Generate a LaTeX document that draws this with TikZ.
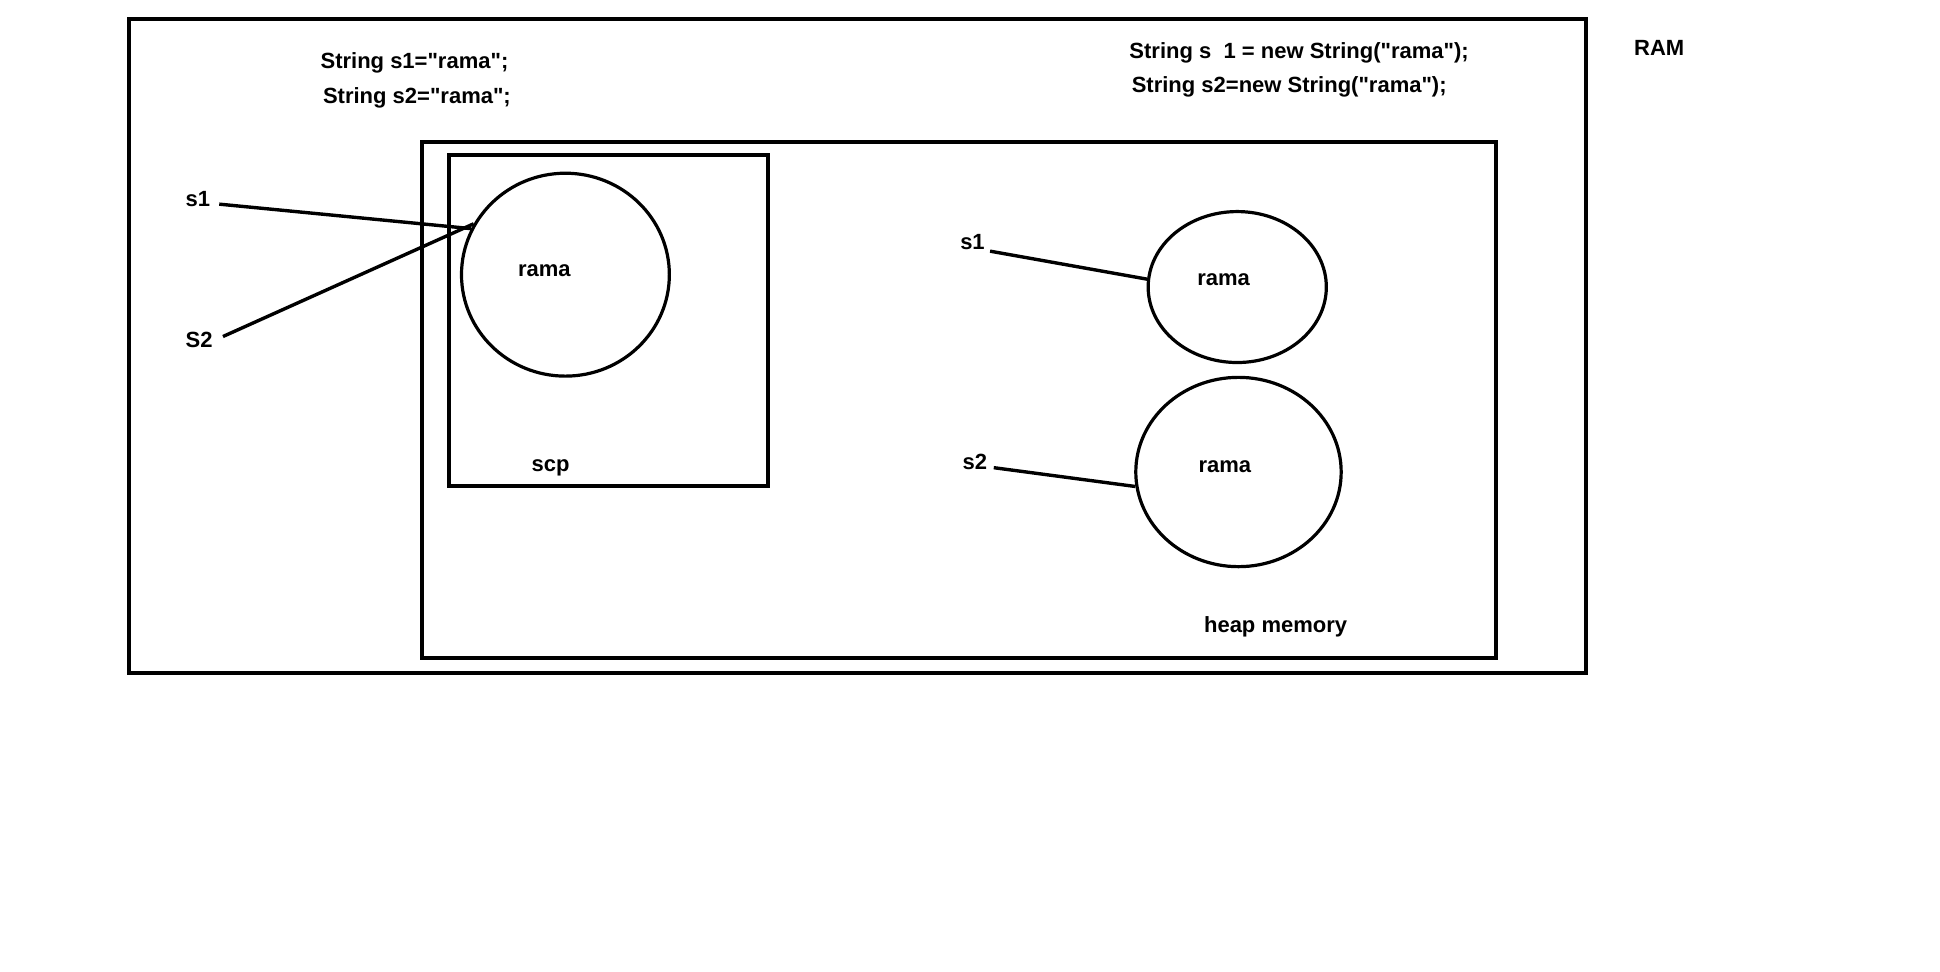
\documentclass[tikz,border=0pt]{standalone}
\usepackage{fontspec}
\setmainfont{Liberation Sans}[Ligatures=TeXOff]
\usetikzlibrary{shapes.geometric,calc}
\begin{document}
\begin{tikzpicture}[x=0.6186pt,y=-0.6186pt,
  frame/.style={draw,line width=2pt},
  blob/.style={draw,ellipse,line width=1.6pt,inner sep=0pt},
  lbl/.style={inner sep=0pt,font=\bfseries\fontsize{11}{13}\selectfont},
  ref/.style={line width=1.7pt}]
\useasboundingbox (0,0) rectangle (1568,785);

% memory regions
\draw[frame] (104,15) rectangle (1282,544);
\draw[frame] (341,115) rectangle (1209,532);
\draw[frame] (363,125) rectangle (621,393);

% code lines
\node[lbl] (codeA) at (335,51) {String s1="rama";};
\node[lbl] (codeB) at (337,79) {String s2="rama";};
\node[lbl] (codeC) at (1050,43) {String s~~1 = new String("rama");};
\node[lbl] (codeD) at (1042,70) {String s2=new String("rama");};
\node[lbl] (ram) at (1341,39) {RAM};
\node[lbl] (scp) at (445,378) {scp};
\node[lbl] (heap) at (1031,507) {heap memory};

% string constant pool object
\node[blob,minimum width={168*0.6186pt},minimum height={164*0.6186pt}] (pool) at (457,222) {};
\node[lbl] (poolTxt) at (440,219) {rama};

% heap objects
\node[blob,minimum width={144*0.6186pt},minimum height={122*0.6186pt}] (h1) at (1000,232) {};
\node[lbl] (h1Txt) at (989,226) {rama};
\node[blob,minimum width={166*0.6186pt},minimum height={153*0.6186pt}] (h2) at (1001,381.5) {};
\node[lbl] (h2Txt) at (990,377) {rama};

% references
\node[lbl] (r1) at (160,161) {s1};
\node[lbl] (r2) at (161,275) {S2};
\node[lbl] (r3) at (786,196) {s1};
\node[lbl] (r4) at (788,373) {s2};

\draw[ref] ($(r1.east)+(7,4)$) -- (pool.154);
\draw[ref] ($(r2.east)+(8,-3)$) -- (pool.151);
\draw[ref] ($(r3.east)+(4,7)$) -- (h1.175);
\draw[ref] ($(r4.east)+(5,5)$) -- (h2.188);
\end{tikzpicture}
\end{document}
